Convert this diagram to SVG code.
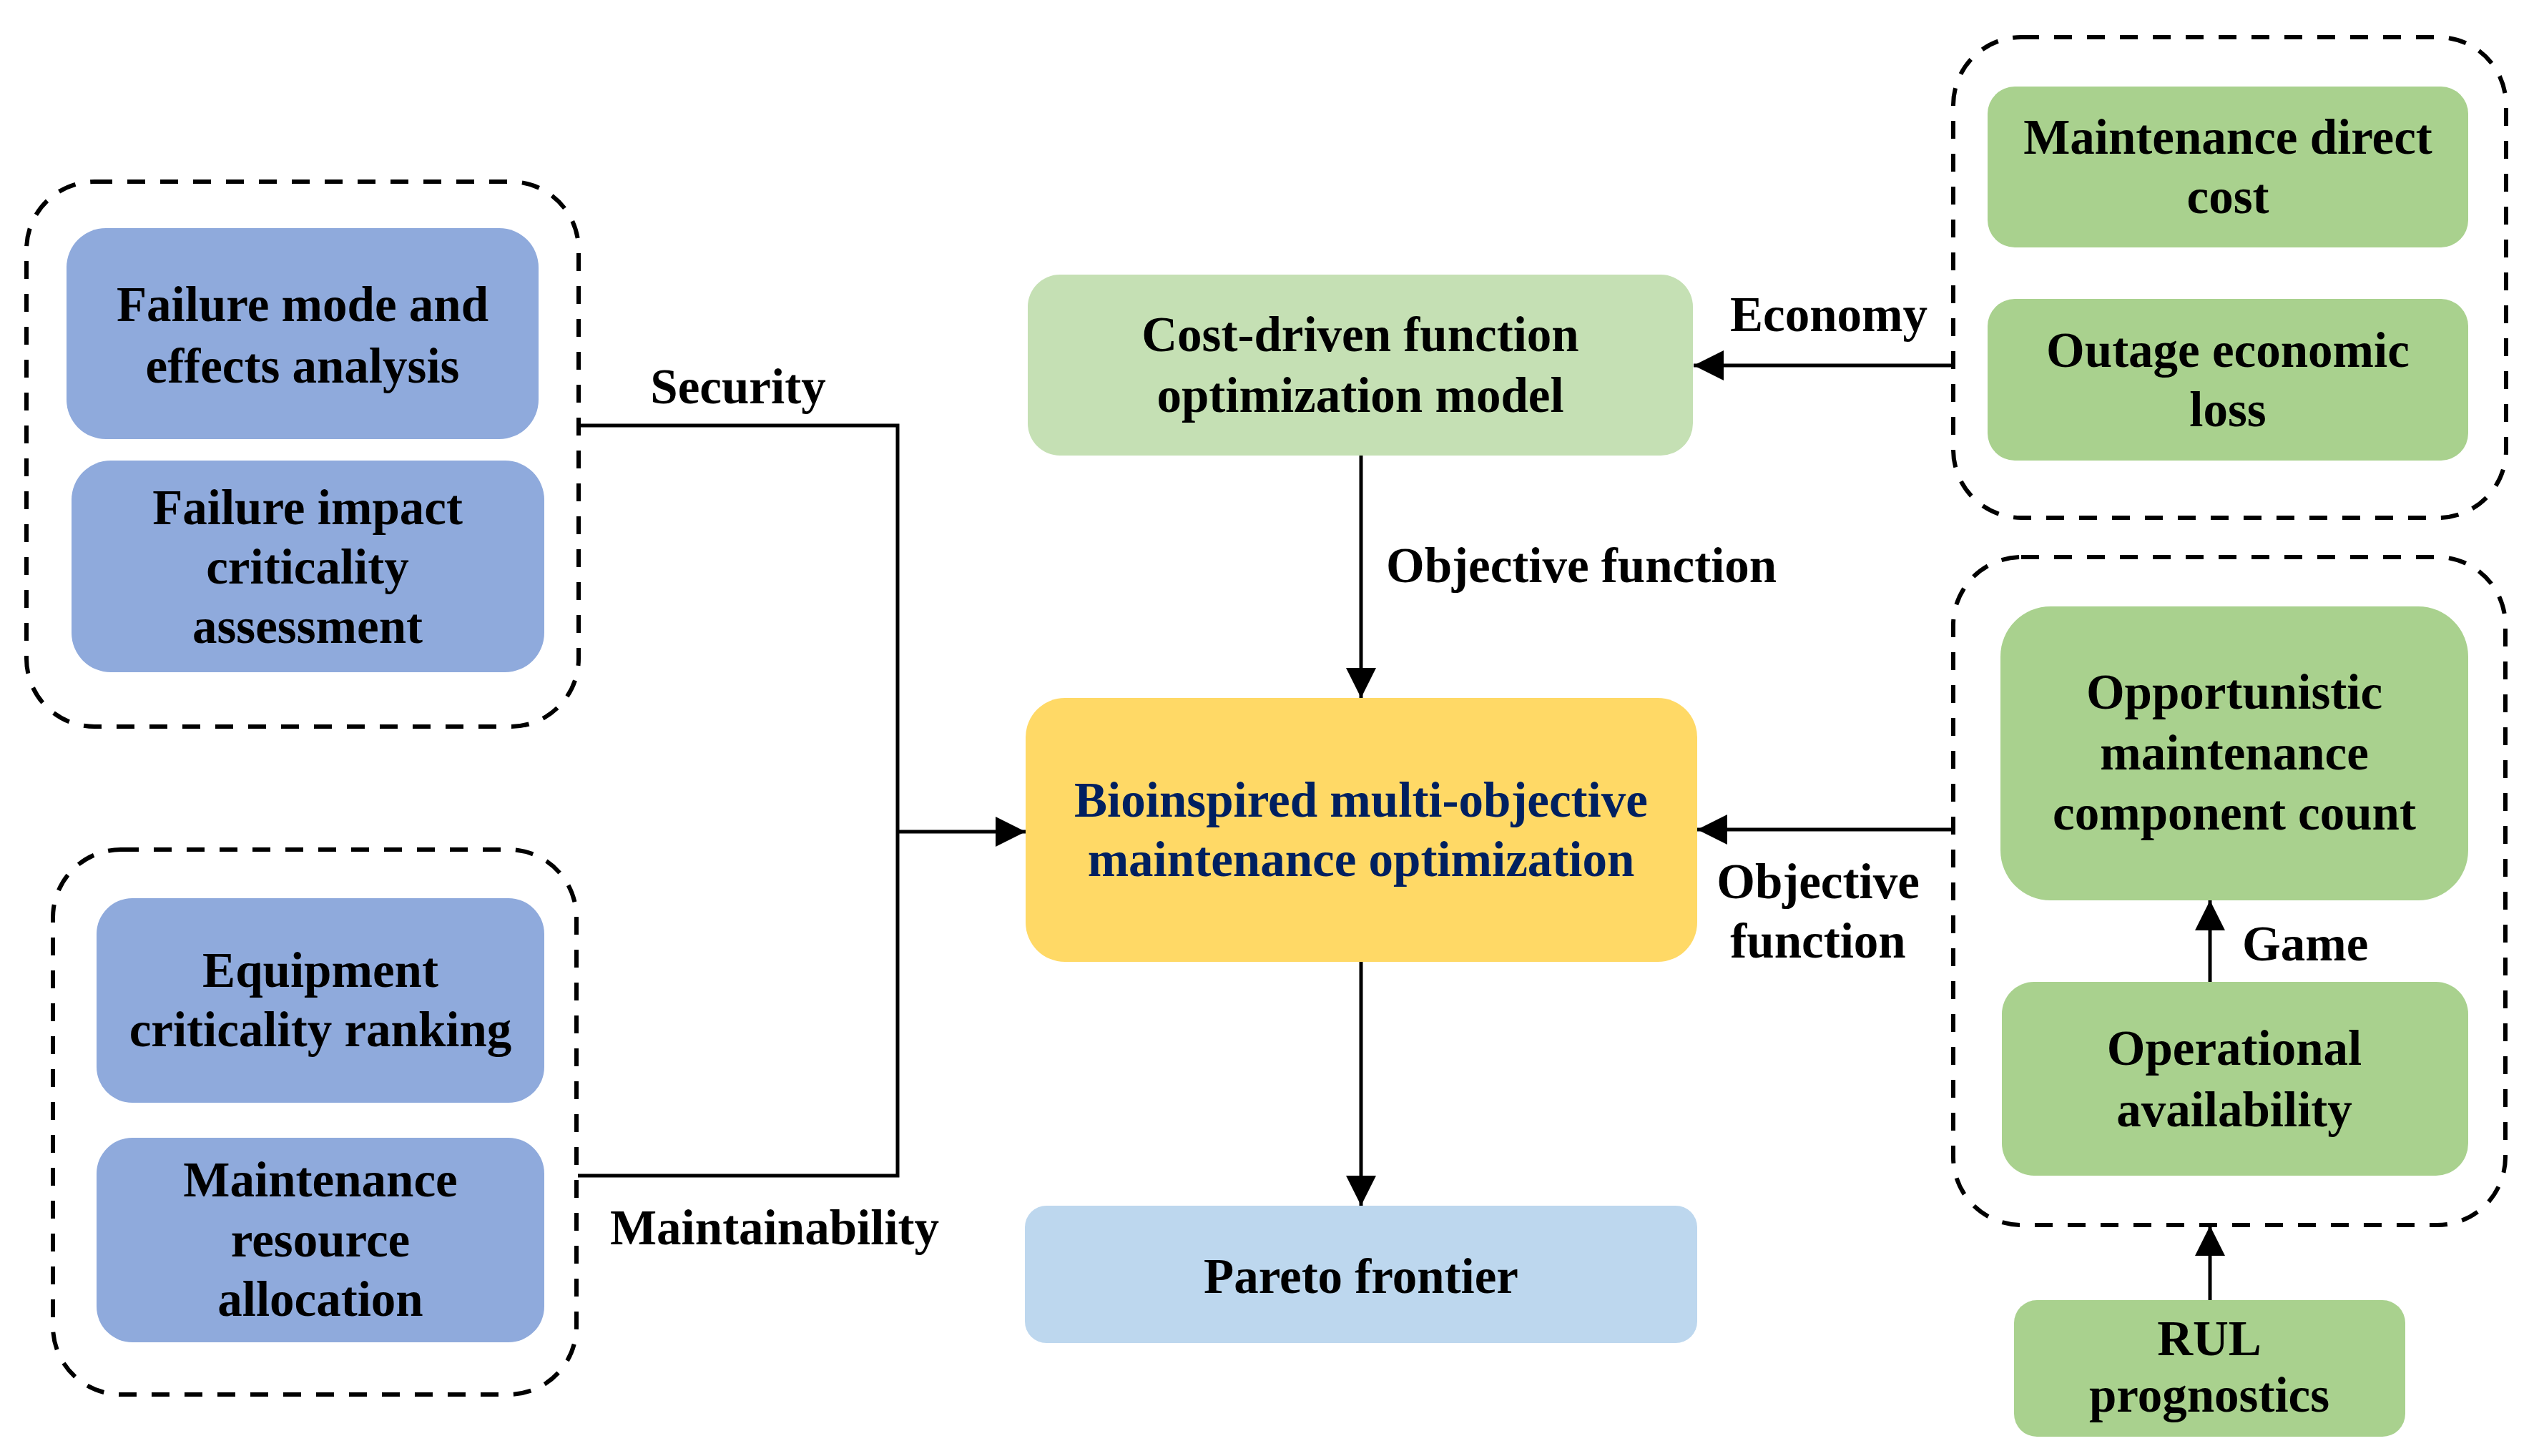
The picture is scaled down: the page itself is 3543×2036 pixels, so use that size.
<svg xmlns="http://www.w3.org/2000/svg" width="3543" height="2036" viewBox="0 0 3543 2036">
<style>
.t{font-family:"Liberation Serif","Times New Roman",serif;font-weight:bold;font-size:69px;fill:#000;text-anchor:middle}
.s{text-anchor:start}
.nv{fill:#002060}
.grp{fill:none;stroke:#000;stroke-width:6;stroke-dasharray:25 21}
.blue{fill:#8faadc}
.lg{fill:#c5e0b4}
.g{fill:#a9d18e}
.y{fill:#ffd966}
.lb{fill:#bdd7ee}
.c{fill:none;stroke:#000;stroke-width:5}
</style>
<defs>
<marker id="ah" markerUnits="userSpaceOnUse" markerWidth="42" markerHeight="42" viewBox="0 0 42 42" refX="42" refY="21" orient="auto">
<path d="M0,0 L42,21 L0,42 z" fill="#000"/>
</marker>
</defs>
<rect width="3543" height="2036" fill="#fff"/>

<g id="group-security">
<rect class="grp" x="37" y="254" width="772" height="762" rx="95"/>
</g>
<g id="group-maintainability">
<rect class="grp" x="74" y="1188" width="732" height="762" rx="95"/>
</g>
<g id="group-economy">
<rect class="grp" x="2731" y="52" width="773" height="672" rx="95"/>
</g>
<g id="group-availability">
<rect class="grp" x="2731" y="779" width="772" height="934" rx="95"/>
</g>

<g id="fmea">
<rect class="blue" x="93" y="319" width="660" height="295" rx="55"/>
<text class="t" x="423" y="449">Failure mode and</text>
<text class="t" x="423" y="535">effects analysis</text>
</g>
<g id="fica">
<rect class="blue" x="100" y="644" width="661" height="296" rx="55"/>
<text class="t" x="430" y="733">Failure impact</text>
<text class="t" x="430" y="816">criticality</text>
<text class="t" x="430" y="899">assessment</text>
</g>
<g id="ecr">
<rect class="blue" x="135" y="1256" width="626" height="286" rx="50"/>
<text class="t" x="448" y="1380">Equipment</text>
<text class="t" x="448" y="1463">criticality ranking</text>
</g>
<g id="mra">
<rect class="blue" x="135" y="1591" width="626" height="286" rx="50"/>
<text class="t" x="448" y="1673">Maintenance</text>
<text class="t" x="448" y="1757">resource</text>
<text class="t" x="448" y="1840">allocation</text>
</g>

<g id="cost">
<rect class="lg" x="1437" y="384" width="930" height="253" rx="45"/>
<text class="t" x="1902" y="491">Cost-driven function</text>
<text class="t" x="1902" y="576">optimization model</text>
</g>
<g id="bio">
<rect class="y" x="1434" y="976" width="939" height="369" rx="55"/>
<text class="t nv" x="1903" y="1142">Bioinspired multi-objective</text>
<text class="t nv" x="1903" y="1225">maintenance optimization</text>
</g>
<g id="pareto">
<rect class="lb" x="1433" y="1686" width="940" height="192" rx="30"/>
<text class="t" x="1903" y="1808">Pareto frontier</text>
</g>

<g id="mdc">
<rect class="g" x="2779" y="121" width="672" height="225" rx="38"/>
<text class="t" x="3115" y="215">Maintenance direct</text>
<text class="t" x="3115" y="298">cost</text>
</g>
<g id="oel">
<rect class="g" x="2779" y="418" width="672" height="226" rx="38"/>
<text class="t" x="3115" y="513">Outage economic</text>
<text class="t" x="3115" y="596">loss</text>
</g>
<g id="omcc">
<rect class="g" x="2797" y="848" width="654" height="411" rx="70"/>
<text class="t" x="3124" y="991">Opportunistic</text>
<text class="t" x="3124" y="1076">maintenance</text>
<text class="t" x="3124" y="1160">component count</text>
</g>
<g id="oa">
<rect class="g" x="2799" y="1373" width="652" height="271" rx="45"/>
<text class="t" x="3124" y="1489">Operational</text>
<text class="t" x="3124" y="1575">availability</text>
</g>
<g id="rul">
<rect class="g" x="2816" y="1818" width="547" height="191" rx="32"/>
<text class="t" x="3089" y="1895">RUL</text>
<text class="t" x="3089" y="1974">prognostics</text>
</g>

<g id="connectors">
<polyline class="c" points="808,595 1255,595 1255,1644 808,1644"/>
<line class="c" x1="1255" y1="1163" x2="1434" y2="1163" marker-end="url(#ah)"/>
<line class="c" x1="1903" y1="637" x2="1903" y2="976" marker-end="url(#ah)"/>
<line class="c" x1="1903" y1="1345" x2="1903" y2="1686" marker-end="url(#ah)"/>
<line class="c" x1="2731" y1="511" x2="2368" y2="511" marker-end="url(#ah)"/>
<line class="c" x1="2731" y1="1160" x2="2373" y2="1160" marker-end="url(#ah)"/>
<line class="c" x1="3090" y1="1373" x2="3090" y2="1259" marker-end="url(#ah)"/>
<line class="c" x1="3090" y1="1818" x2="3090" y2="1714" marker-end="url(#ah)"/>
<text class="t" x="1032" y="564">Security</text>
<text class="t" x="1083" y="1740">Maintainability</text>
<text class="t s" x="1938" y="814">Objective function</text>
<text class="t" x="2557" y="463">Economy</text>
<text class="t" x="2542" y="1256">Objective</text>
<text class="t" x="2542" y="1339">function</text>
<text class="t s" x="3135" y="1343">Game</text>
</g>
</svg>
